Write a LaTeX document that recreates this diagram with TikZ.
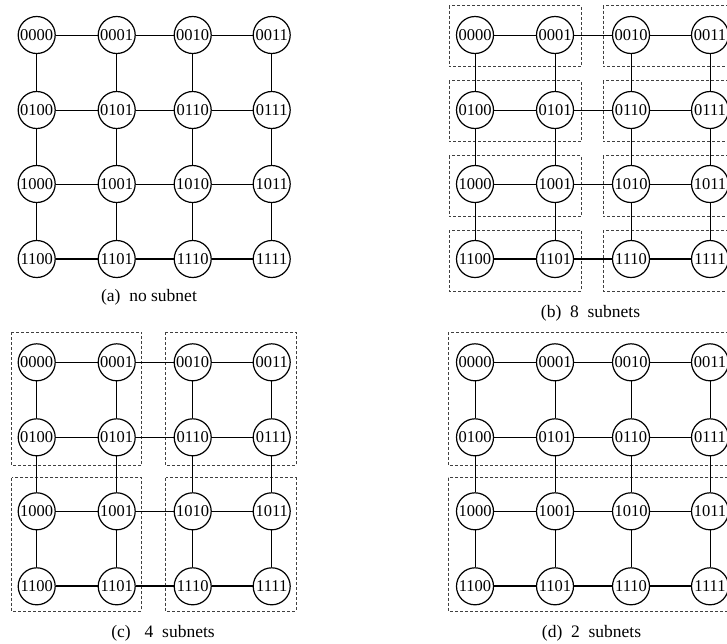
\documentclass[tikz,border=0pt]{standalone}
\usepackage{fontspec}
\setmainfont{Liberation Serif}

% one 4x4 mesh of routers: #1 name prefix, #2/#3 centre of the top-left router
\newcommand\meshpanel[3]{%
  \begin{scope}[shift={(#2,#3)}]
    \foreach \r/\ry/\rb in {0/0/00,1/75/01,2/149/10,3/224/11}
      \foreach \c/\cx/\cb in {0/0/00,1/80/01,2/156/10,3/235/11}
        \node[router] (#1\r\c) at (\cx,\ry) {\rb\cb};
    % horizontal links, the bottom row is heavier
    \foreach \r in {0,1,2}
      \foreach \c/\d in {0/1,1/2,2/3}
        \draw[link] (#1\r\c) -- (#1\r\d);
    \foreach \c/\d in {0/1,1/2,2/3}
      \draw[heavylink] (#13\c) -- (#13\d);
    % vertical links
    \foreach \c in {0,1,2,3}
      \foreach \r/\s in {0/1,1/2,2/3}
        \draw[link] (#1\r\c) -- (#1\s\c);
  \end{scope}}

\tikzset{
  router/.style={circle, draw, line width=1.2pt, fill=white, minimum size=37pt,
                 inner sep=0pt, font=\fontsize{16.5}{17}\selectfont},
  link/.style={line width=0.9pt},
  heavylink/.style={line width=1.9pt},
  subnet/.style={draw=black!75, line width=0.7pt, dash pattern=on 3pt off 2pt},
  caption/.style={font=\fontsize{17.5}{19}\selectfont, inner sep=0pt}
}

\begin{document}
\begin{tikzpicture}[x=1pt, y=-1pt]
  \clip (0,0) rectangle (727,643);
  \fill[white] (0,0) rectangle (727,643);

  % subnet boundaries, (b): eight subnets
  \foreach \y in {5.7,80.7,155.7,230} {
    \draw[subnet] (449,\y) rectangle (581,\y+61);
    \draw[subnet] (603,\y) rectangle (735,\y+61);
  }
  % (c): four subnets
  \draw[subnet] (11.7,332.3) rectangle (141.7,465.7);
  \draw[subnet] (165.7,332.3) rectangle (296,465.7);
  \draw[subnet] (11.7,477.7) rectangle (141.7,611);
  \draw[subnet] (165.7,477.7) rectangle (296,611);
  % (d): two subnets
  \draw[subnet] (448.3,332.3) rectangle (740,465.7);
  \draw[subnet] (448.3,477.7) rectangle (740,611);

  \meshpanel{a}{36.7}{35}
  \meshpanel{b}{475}{35}
  \meshpanel{c}{36.7}{362.3}
  \meshpanel{d}{475}{362.3}

  \node[caption] (capa) at (149,297) {(a)\hspace{0.5em}no subnet};
  \node[caption] (capb) at (590.5,313) {(b)\hspace{0.5em}8\hspace{0.5em}subnets};
  \node[caption] (capc) at (163,633) {(c)\hspace{0.8em}4\hspace{0.5em}subnets};
  \node[caption] (capd) at (591.5,633) {(d)\hspace{0.5em}2\hspace{0.5em}subnets};
\end{tikzpicture}
\end{document}
